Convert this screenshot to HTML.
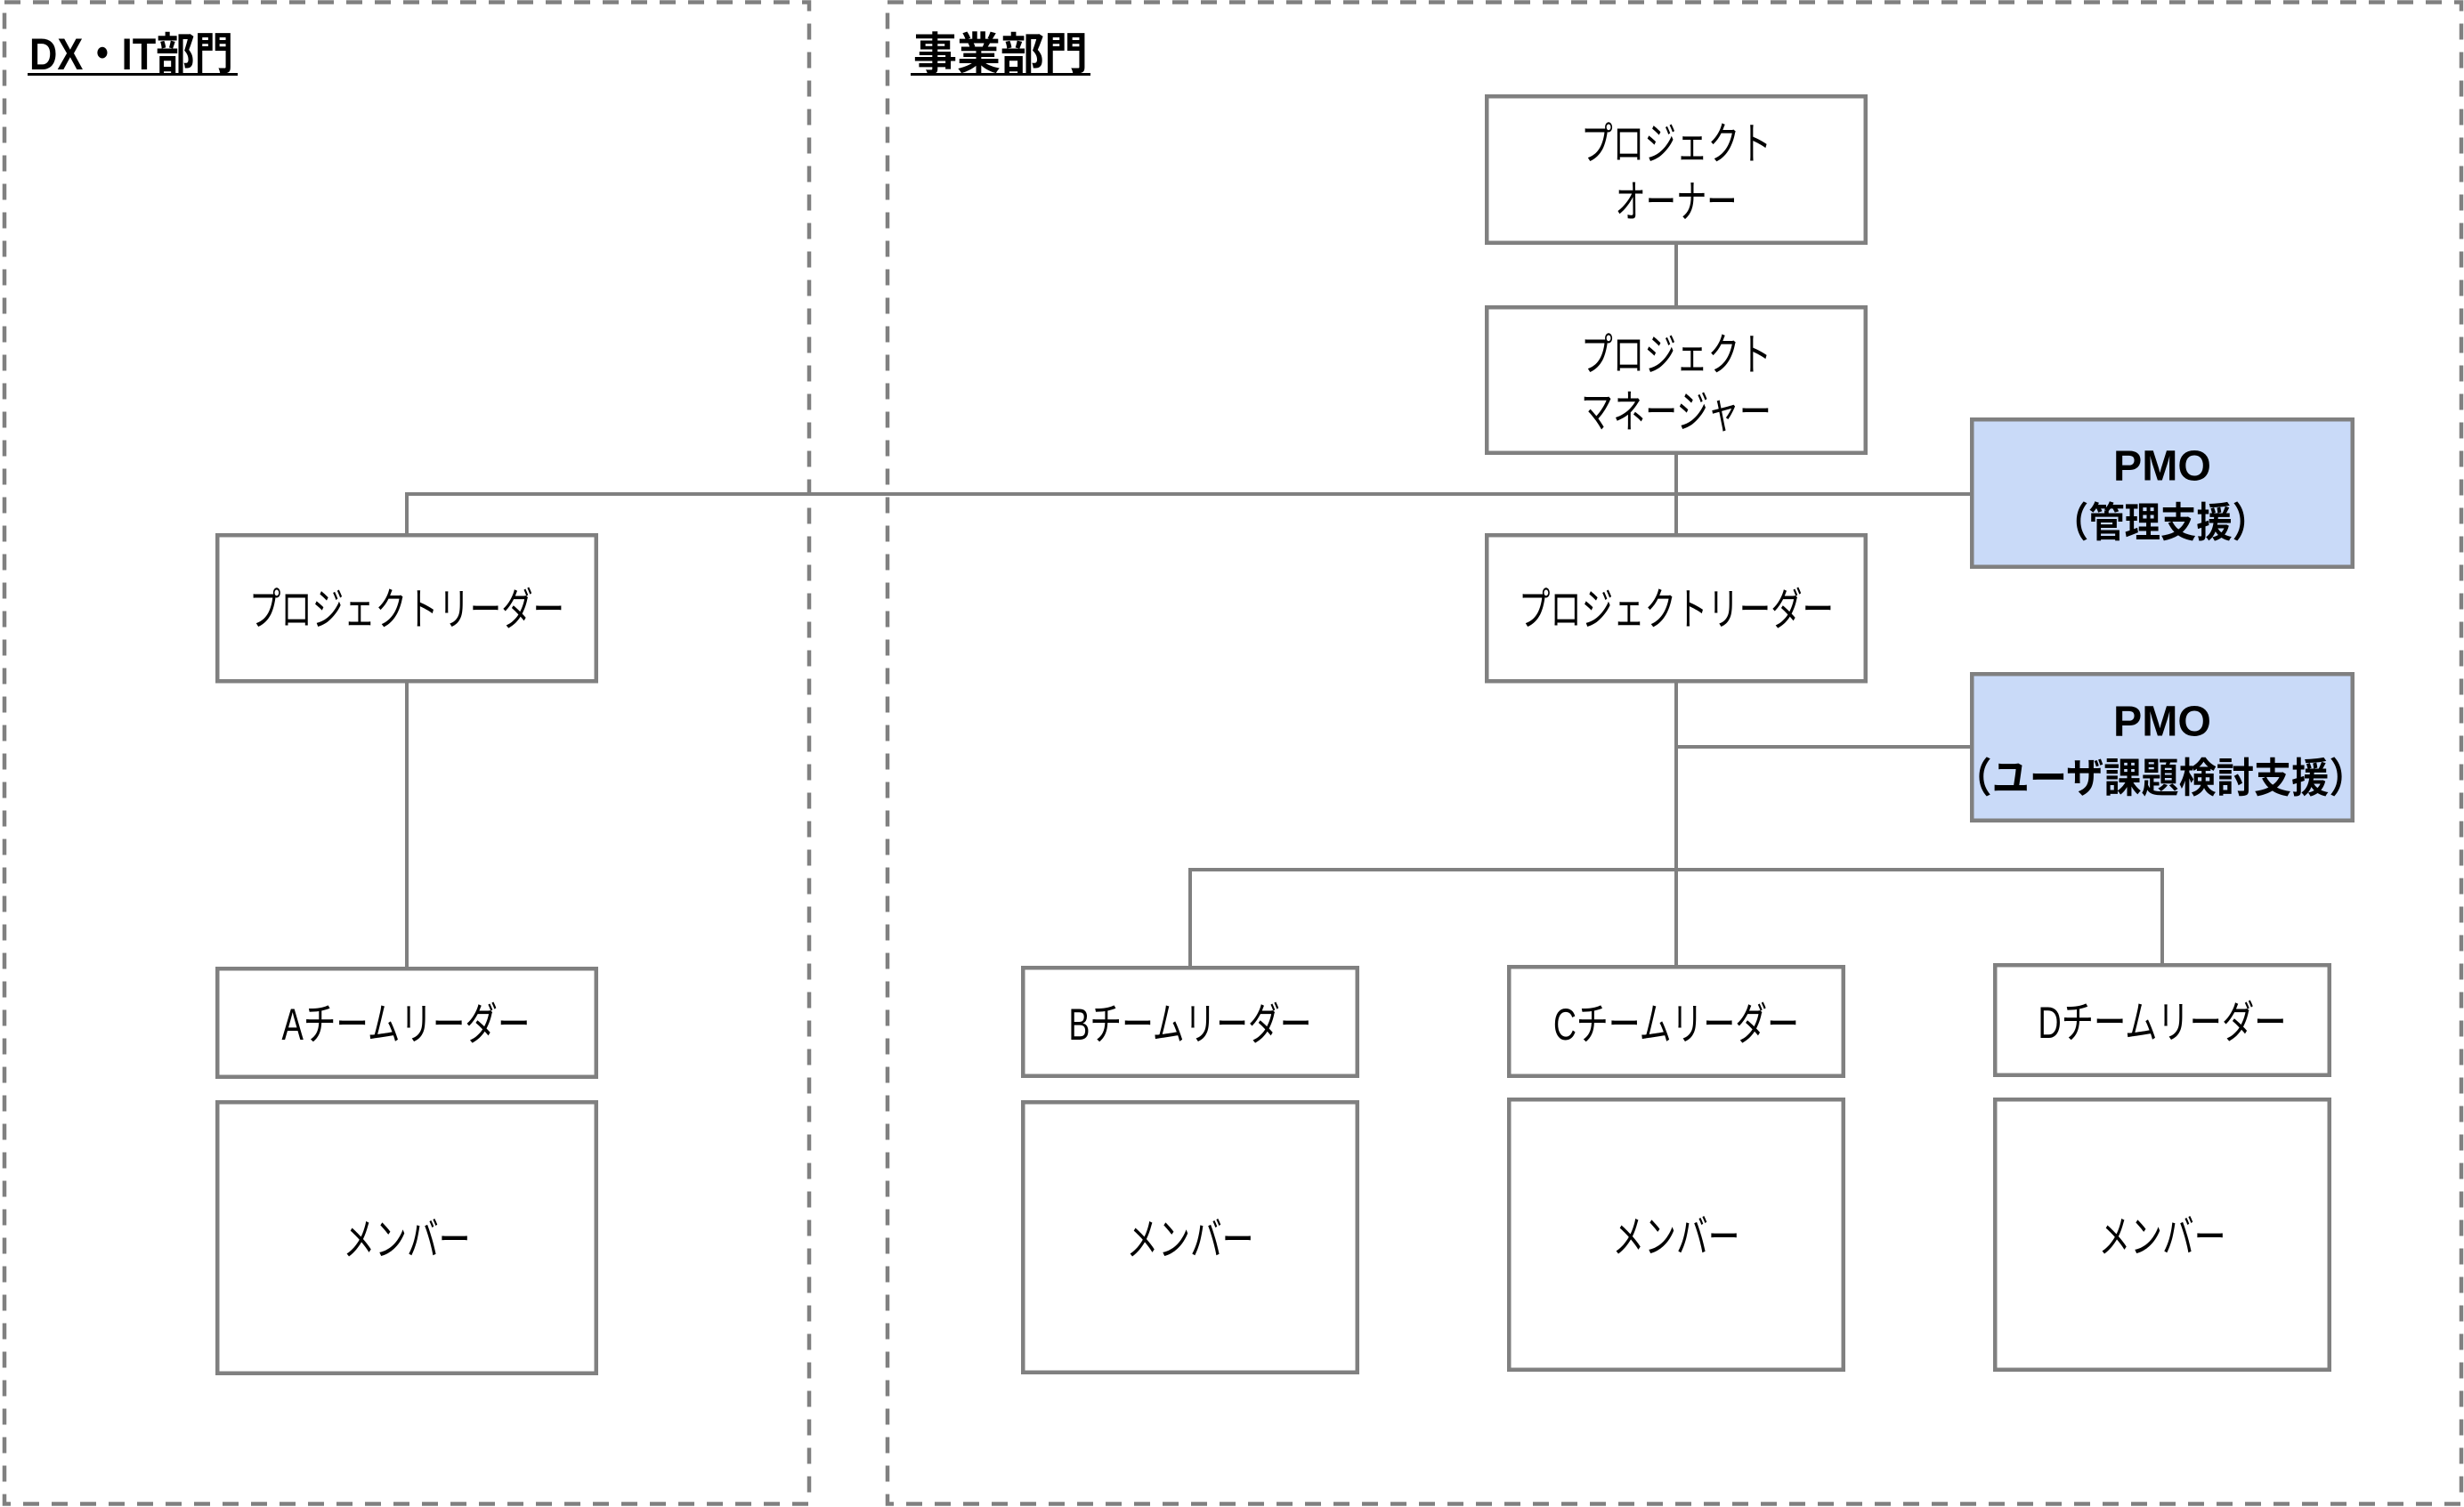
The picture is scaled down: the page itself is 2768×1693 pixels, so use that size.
<!DOCTYPE html>
<html>
<head>
<meta charset="utf-8">
<style>
  html,body{margin:0;padding:0;background:#fff;}
  svg{display:block;}
  text{font-family:"Liberation Sans","Noto Sans CJK JP",sans-serif;fill:#000;}
</style>
</head>
<body>
<svg width="2768" height="1693" viewBox="0 0 2768 1693" xmlns="http://www.w3.org/2000/svg">
  <rect x="0" y="0" width="2768" height="1693" fill="#fff"/>

  <!-- dashed containers -->
  <g fill="none" stroke="#808080" stroke-width="4.5" stroke-dasharray="18 14">
    <rect x="5" y="2.5" width="904" height="1687"/>
    <rect x="997" y="2.5" width="1768" height="1687"/>
  </g>

  <!-- titles -->
  <text x="33" y="78" font-size="50" font-weight="bold" textLength="229" lengthAdjust="spacingAndGlyphs">DX・IT部門</text>
  <rect x="31" y="82" width="236" height="3" fill="#000"/>
  <text x="1026" y="78" font-size="50" font-weight="bold" textLength="196" lengthAdjust="spacingAndGlyphs">事業部門</text>
  <rect x="1023" y="82" width="202" height="3" fill="#000"/>

  <!-- connectors -->
  <g stroke="#808080" stroke-width="4" fill="none">
    <line x1="1883" y1="275" x2="1883" y2="343"/>
    <line x1="1883" y1="511" x2="1883" y2="600"/>
    <polyline points="457,599 457,555 2213,555"/>
    <line x1="457" y1="767" x2="457" y2="1086"/>
    <line x1="1883" y1="767" x2="1883" y2="1084"/>
    <line x1="1883" y1="839" x2="2213" y2="839"/>
    <polyline points="1337,1085 1337,977 2429,977 2429,1082"/>
  </g>

  <!-- boxes -->
  <g stroke="#808080" stroke-width="4.5" fill="#fff">
    <rect x="1670.25" y="108.25" width="425.5" height="164.5"/>
    <rect x="1670.25" y="345.25" width="425.5" height="163.5"/>
    <rect x="1670.25" y="601.25" width="425.5" height="164"/>
    <rect x="244.25" y="601.25" width="425.5" height="164"/>
    <rect x="244.25" y="1088.25" width="425.5" height="121.5"/>
    <rect x="244.25" y="1238.25" width="425.5" height="304.5"/>
    <rect x="1149.25" y="1087.25" width="375.5" height="121.5"/>
    <rect x="1149.25" y="1238.25" width="375.5" height="303.5"/>
    <rect x="1695.25" y="1086.25" width="375.5" height="122.5"/>
    <rect x="1695.25" y="1235.25" width="375.5" height="303.5"/>
    <rect x="2241.25" y="1084.25" width="375.5" height="123.5"/>
    <rect x="2241.25" y="1235.25" width="375.5" height="303.5"/>
    <rect x="2215.25" y="471.25" width="427.5" height="165.5" fill="#c9daf8"/>
    <rect x="2215.25" y="757.25" width="427.5" height="164.5" fill="#c9daf8"/>
  </g>

  <!-- box labels -->
  <g font-size="50" text-anchor="middle" dominant-baseline="central">
    <text x="1883" y="162" textLength="214" lengthAdjust="spacingAndGlyphs">プロジェクト</text>
    <text x="1883" y="227" textLength="137" lengthAdjust="spacingAndGlyphs">オーナー</text>
    <text x="1883" y="399" textLength="214" lengthAdjust="spacingAndGlyphs">プロジェクト</text>
    <text x="1883" y="463" textLength="214" lengthAdjust="spacingAndGlyphs">マネージャー</text>
    <text x="1883" y="685" textLength="354" lengthAdjust="spacingAndGlyphs">プロジェクトリーダー</text>
    <text x="457" y="685" textLength="354" lengthAdjust="spacingAndGlyphs">プロジェクトリーダー</text>
    <text x="456" y="1151" textLength="279" lengthAdjust="spacingAndGlyphs">Aチームリーダー</text>
    <text x="1337" y="1151" textLength="273" lengthAdjust="spacingAndGlyphs">Bチームリーダー</text>
    <text x="1883" y="1151" textLength="276" lengthAdjust="spacingAndGlyphs">Cチームリーダー</text>
    <text x="2429" y="1149" textLength="279" lengthAdjust="spacingAndGlyphs">Dチームリーダー</text>
    <text x="457" y="1393" textLength="143" lengthAdjust="spacingAndGlyphs">メンバー</text>
    <text x="1337" y="1393" textLength="143" lengthAdjust="spacingAndGlyphs">メンバー</text>
    <text x="1883" y="1390" textLength="143" lengthAdjust="spacingAndGlyphs">メンバー</text>
    <text x="2429" y="1390" textLength="143" lengthAdjust="spacingAndGlyphs">メンバー</text>
  </g>

  <!-- PMO labels -->
  <g font-weight="bold" text-anchor="middle" dominant-baseline="central">
    <text x="2429" y="524" font-size="48" textLength="110" lengthAdjust="spacingAndGlyphs">PMO</text>
    <text x="2427" y="587" font-size="46" textLength="242" lengthAdjust="spacingAndGlyphs">（管理支援）</text>
    <text x="2429" y="811" font-size="48" textLength="110" lengthAdjust="spacingAndGlyphs">PMO</text>
    <text x="2427" y="874" font-size="46" textLength="463" lengthAdjust="spacingAndGlyphs">（ユーザ課題検討支援）</text>
  </g>
</svg>
</body>
</html>
